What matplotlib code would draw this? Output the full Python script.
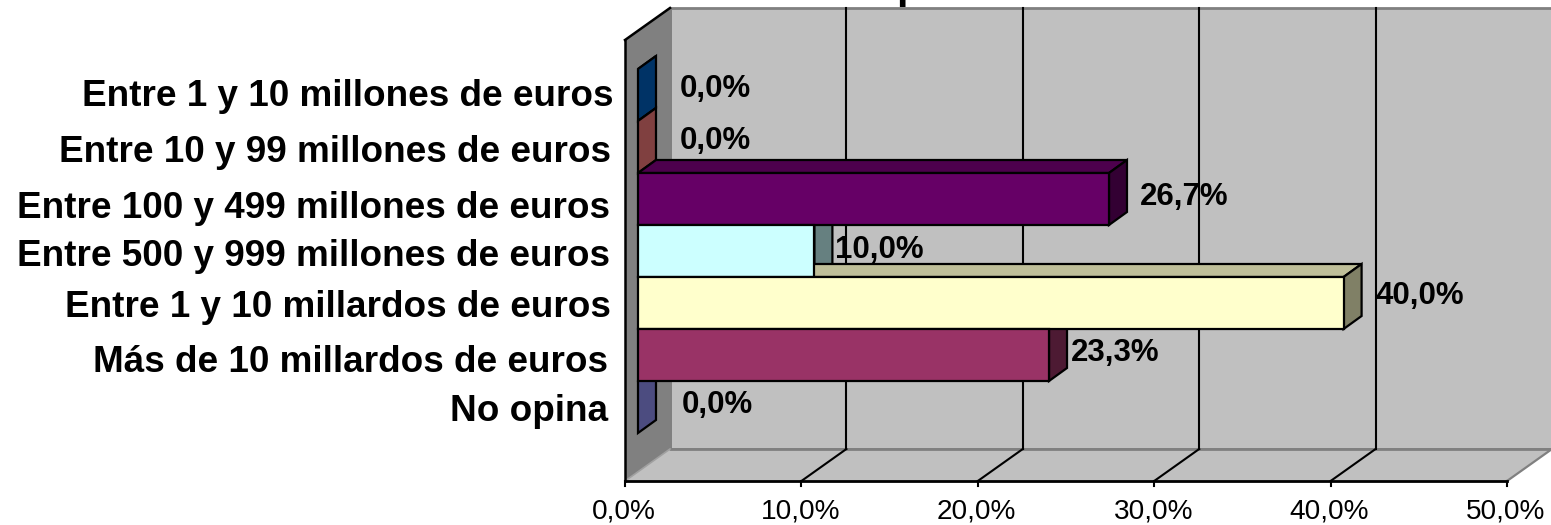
import matplotlib
matplotlib.use('Agg')
import matplotlib.pyplot as plt
from matplotlib.patches import Polygon

plt.rcParams['font.family'] = ['Liberation Sans', 'DejaVu Sans']

categories = ['Entre 1 y 10 millones de euros', 'Entre 10 y 99 millones de euros',
              'Entre 100 y 499 millones de euros', 'Entre 500 y 999 millones de euros',
              'Entre 1 y 10 millardos de euros', 'Más de 10 millardos de euros', 'No opina']
values = [0.0, 0.0, 26.7, 10.0, 40.0, 23.3, 0.0]
colors = ['#0066CC', '#FF8080', '#660066', '#CCFFFF', '#FFFFCC', '#993366', '#9999FF']
sides = ['#003366', '#804040', '#330033', '#668080', '#808066', '#4D1A33', '#4C4C80']
tops = ['#004D99', '#BF6060', '#4D004D', '#99BFBF', '#BFBF99', '#732650', '#7373BF']
ticks = [0, 10, 20, 30, 40, 50]

# label nudges in pixels, the original placement is not regular
label_dx = [24, 24, 13, 3, 14, 4, 26]
label_dy = [7, 7, 11, 12, 6, 11, 11]
cat_right = [613, 611, 610, 610, 611, 608, 608]
cat_dy = [1, 5, 9, 5, 5, 7, 5]

W, H = 1551, 525
X0, PX_X = 625, 17.64   # pixel of 0% and pixels per percent
Y0, PX_Y = 69, 52       # pixel of first bar top and pixels per category

fig = plt.figure(figsize=(W / 100, H / 100), dpi=100)
ax = fig.add_axes([0, 0, 1, 1])
ax.set_xlim(-X0 / PX_X, (W - X0) / PX_X)
ax.set_ylim((H - Y0) / PX_Y, -Y0 / PX_Y)
ax.axis('off')

wall_dx, wall_dy = 45 / PX_X, 32 / PX_Y
bar_dx, bar_dy = 18 / PX_X, 13 / PX_Y
inset_x, inset_y = 13 / PX_X, 9 / PX_Y
floor = (481 - Y0) / PX_Y
top = (40 - Y0) / PX_Y
xmax = ticks[-1]

def poly(pts, fc, ec='black', lw=1.6, z=2):
    ax.add_patch(Polygon(pts, closed=True, facecolor=fc, edgecolor=ec, linewidth=lw, zorder=z, joinstyle='miter'))

# walls and floor
poly([(wall_dx, top - wall_dy), (xmax + wall_dx, top - wall_dy), (xmax + wall_dx, floor - wall_dy), (wall_dx, floor - wall_dy)],
     '#C0C0C0', ec='#808080', lw=2, z=1)
poly([(0, top), (wall_dx, top - wall_dy), (wall_dx, floor - wall_dy), (0, floor)], '#808080', ec='none', z=1)
poly([(0, floor), (wall_dx, floor - wall_dy), (xmax + wall_dx, floor - wall_dy), (xmax, floor)], '#C0C0C0', ec='none', z=1)
ax.plot([xmax, xmax + wall_dx], [floor, floor - wall_dy], color='#808080', lw=1.6, zorder=1.5)
ax.plot([wall_dx, wall_dx, xmax + wall_dx], [top - wall_dy, floor - wall_dy, floor - wall_dy], color='#808080', lw=2, zorder=1.2)
ax.plot([0, wall_dx], [floor, floor - wall_dy], color='#A0A0A0', lw=1.2, zorder=1.5)
ax.plot([0, wall_dx], [top, top - wall_dy], color='black', lw=1.8, zorder=1.5)
ax.plot([0, 0], [top, floor], color='black', lw=1.8, zorder=1.5)
ax.plot([0, xmax], [floor, floor], color='black', lw=2, zorder=1.5)

# grid lines on back wall and floor, ticks below
for t in ticks:
    if 0 < t < xmax:
        ax.plot([t + wall_dx, t + wall_dx], [top - wall_dy, floor - wall_dy], color='black', lw=1.5, zorder=1.4)
        ax.plot([t, t + wall_dx], [floor, floor - wall_dy], color='black', lw=1.5, zorder=1.4)
    ax.plot([t, t], [floor, floor + 5 / PX_Y], color='black', lw=1.5, zorder=1.4)
    ax.text(t - 1 / PX_X, floor + 31 / PX_Y, f'{t:.1f}%'.replace('.', ','), ha='center', va='center',
            fontsize=20.2, color='black')

# tops and sides first, front faces over them
for i, (v, c, s, tp) in enumerate(zip(values, colors, sides, tops)):
    x0 = inset_x
    x1 = inset_x + v
    y0 = i
    y1 = i + 1
    poly([(x0, y0), (x0 + bar_dx, y0 - bar_dy), (x1 + bar_dx, y0 - bar_dy), (x1, y0)], tp, z=3)
    poly([(x1, y0), (x1 + bar_dx, y0 - bar_dy), (x1 + bar_dx, y1 - bar_dy), (x1, y1)], s, z=3)
    if v > 0:
        poly([(x0, y0), (x1, y0), (x1, y1), (x0, y1)], c, z=4)

for i, (v, cat) in enumerate(zip(values, categories)):
    ax.text(inset_x + v + bar_dx + label_dx[i] / PX_X, i + 0.5 + label_dy[i] / PX_Y - bar_dy,
            f'{v:.1f}%'.replace('.', ','), ha='left', va='center', fontsize=22.5, fontweight='bold', zorder=20)
    ax.text((cat_right[i] - X0) / PX_X, i + 0.5 + cat_dy[i] / PX_Y, cat, ha='right', va='center',
            fontsize=26.6, fontweight='bold', zorder=20)

# the title is cut by the top edge, only a descender shows
ax.text((909 - X0) / PX_X, (-2 - Y0) / PX_Y, 'p', ha='center', va='baseline', fontsize=30, fontweight='bold', zorder=0)

fig.savefig('out.png', dpi=100)
